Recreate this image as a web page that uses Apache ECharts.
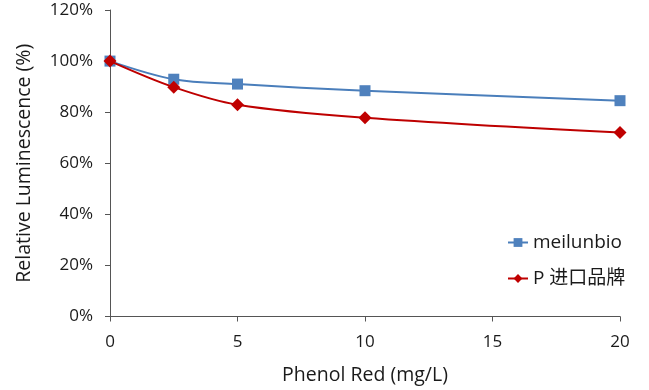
<!DOCTYPE html>
<html><head><meta charset="utf-8">
<script src="https://cdn.jsdelivr.net/npm/echarts@6/dist/echarts.min.js"></script>
<style>html,body{margin:0;padding:0;background:#fff}#c{width:649px;height:390px}</style>
</head><body><div id="c"></div>
<script>
const xValues = [0, 2.5, 5, 10, 20];
const seriesNames = ['meilunbio', 'P 进口品牌'];
const meilunbio = [100, 92.9, 91, 88.4, 84.5];
const pBrand = [100, 89.8, 82.9, 77.8, 72];
const xTicks = [0, 5, 10, 15, 20];
const yTicks = [0, 20, 40, 60, 80, 100, 120];

const font = '"Open Sans", "Noto Sans CJK SC", sans-serif';
const chart = echarts.init(document.getElementById('c'));
chart.setOption({
  animation: false,
  textStyle: { fontFamily: font },
  grid: { left: 110, right: 29, top: 10, bottom: 73 },
  legend: {
    orient: 'vertical', left: 502, top: 228, itemGap: 17,
    itemWidth: 20, itemHeight: 11,
    textStyle: { fontSize: 19, color: '#1a1a1a', fontFamily: font },
    data: seriesNames
  },
  xAxis: {
    type: 'value', min: xTicks[0], max: xTicks[xTicks.length-1], interval: 5,
    name: 'Phenol Red (mg/L)', nameLocation: 'middle', nameGap: 49,
    nameTextStyle: { fontSize: 19.5, color: '#1a1a1a' },
    axisLine: { lineStyle: { color: '#555', width: 1 } },
    axisTick: { show: true, inside: false, length: 5, lineStyle: { color: '#555' } },
    axisLabel: { fontSize: 17, color: '#1a1a1a', margin: 17 },
    splitLine: { show: false }
  },
  yAxis: {
    type: 'value', min: yTicks[0], max: yTicks[yTicks.length-1], interval: 20,
    name: 'Relative Luminescence (%)', nameLocation: 'middle', nameGap: 76, nameRotate: 90,
    nameTextStyle: { fontSize: 19.5, color: '#1a1a1a' },
    axisLine: { show: true, lineStyle: { color: '#555', width: 1 } },
    axisTick: { show: true, inside: false, length: 5, lineStyle: { color: '#555' } },
    axisLabel: { fontSize: 17, color: '#1a1a1a', margin: 17, formatter: v => v + '%' },
    splitLine: { show: false }
  },
  series: [
    {
      name: seriesNames[0], type: 'line', smooth: 0.35,
      data: xValues.map((x, i) => [x, meilunbio[i]]),
      symbol: 'rect', symbolSize: 11,
      lineStyle: { color: '#4a7ebb', width: 2 },
      itemStyle: { color: '#4f81bd' }, z: 2
    },
    {
      name: seriesNames[1], type: 'line', smooth: 0.35,
      data: xValues.map((x, i) => [x, pBrand[i]]),
      symbol: 'diamond', symbolSize: 13,
      lineStyle: { color: '#be0000', width: 2 },
      itemStyle: { color: '#c00000' }, z: 3
    }
  ]
});
</script></body></html>
